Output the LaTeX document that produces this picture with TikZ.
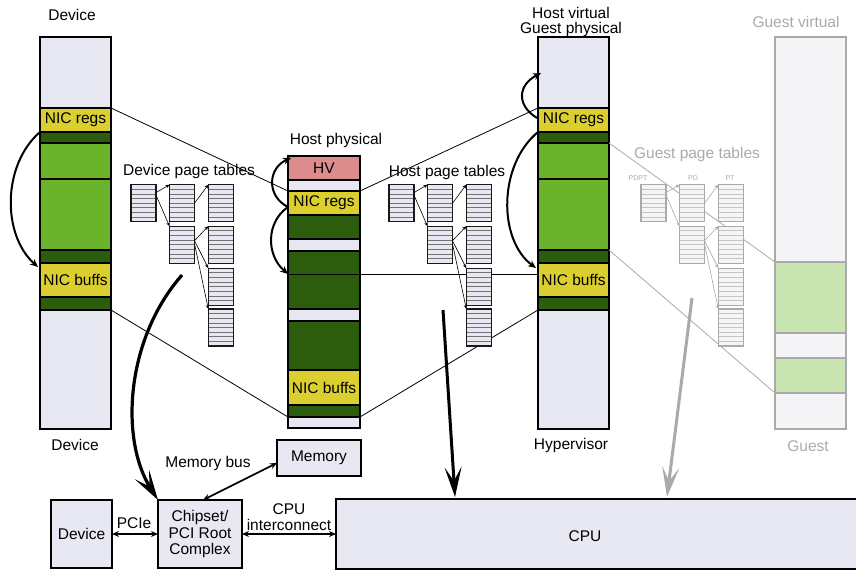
\documentclass[tikz,border=0pt]{standalone}
\usepackage{fontspec}
\setmainfont{Liberation Sans}
\usetikzlibrary{arrows.meta,calc}

\definecolor{lav}{RGB}{232,232,242}
\definecolor{nicy}{RGB}{219,207,48}
\definecolor{ltg}{RGB}{106,179,43}
\definecolor{dkg}{RGB}{44,92,14}
\definecolor{hvpink}{RGB}{220,140,140}
\definecolor{ggray}{RGB}{170,170,170}
\definecolor{gfill}{RGB}{245,245,248}
\definecolor{gpale}{RGB}{200,228,176}

\tikzset{
  seg/.style 2 args={draw=black, line width=1.6pt, minimum width=#1, minimum height=#2,
    anchor=north west, inner sep=0pt, outer sep=0pt},
  gseg/.style 2 args={draw=ggray, line width=1.4pt, minimum width=#1, minimum height=#2,
    anchor=north west, inner sep=0pt, outer sep=0pt},
  tabrows/.style={path picture={
    \foreach \k in {1,...,7}{
      \draw[#1, line width=0.7pt]
        ([yshift=-\k*4.625pt]path picture bounding box.north west) --
        ([yshift=-\k*4.625pt]path picture bounding box.north east);}}},
  ptab/.style={draw=black!90, line width=1.4pt, fill=lav, minimum width=25, minimum height=37,
    inner sep=0pt, outer sep=0pt, tabrows=black!55},
  gtab/.style={draw=ggray, line width=1.4pt, fill=gfill, minimum width=25, minimum height=37,
    inner sep=0pt, outer sep=0pt, tabrows=ggray!70},
  tlink/.style={draw=black, line width=0.6pt, -{Stealth[length=4pt,width=3.5pt]}},
  glink/.style={draw=ggray, line width=0.6pt, -{Stealth[length=4pt,width=3.5pt]}},
  mapline/.style={draw=black, line width=0.8pt},
  gmapline/.style={draw=ggray, line width=0.8pt},
  hop/.style={draw=black, line width=2pt, -{Stealth[length=8pt,width=7pt]}},
  bigarrow/.style={line width=3pt, -{Stealth[length=30pt,width=17pt,inset=14pt]}},
  bus/.style={draw=black, line width=1.6pt, {Stealth[length=7pt,width=6pt]}-{Stealth[length=7pt,width=6pt]}},
  box/.style={draw=black, line width=1.6pt, fill=lav, inner sep=0pt, outer sep=0pt,
    anchor=north west, align=center},
  lbl/.style={inner sep=0pt, align=center},
  glbl/.style={inner sep=0pt, text=ggray},
}

\begin{document}
\begin{tikzpicture}[x=1pt, y=-1pt, font=\fontsize{15.5}{16.5}\selectfont]
\useasboundingbox[fill=white] (0,0) rectangle (856,570);

% ---- memory columns ----
\foreach \n/\t/\h/\c/\l in {1/37/71/lav/{}, NR/108/24/nicy/{NIC regs}, 2/132/11/dkg/{},
    3/143/36/ltg/{}, 4/179/71/ltg/{}, 5/250/13/dkg/{}, NB/263/34/nicy/{NIC buffs},
    6/297/13/dkg/{}, 7/310/119/lav/{}}{
  \node[seg={71}{\h}, fill=\c] (d\n) at (40,\t) {\l};
  \node[seg={71}{\h}, fill=\c] (v\n) at (538,\t) {\l};
}
\foreach \n/\t/\h/\c/\l in {HV/156/24/hvpink/{HV}, 1/180/11/lav/{}, NR/191/24/nicy/{NIC regs},
    2/215/24/dkg/{}, 3/239/12/lav/{}, 4/251/58/dkg/{}, 5/309/12/lav/{}, 6/321/49/dkg/{},
    NB/370/35/nicy/{NIC buffs}, 7/405/12/dkg/{}, 8/417/11/lav/{}}{
  \node[seg={72}{\h}, fill=\c] (h\n) at (288,\t) {\l};
}
\foreach \n/\t/\h/\c in {1/37/225/gfill, 2/262/71/gpale, 3/333/25/gfill, 4/358/35/gpale, 5/393/36/gfill}{
  \node[gseg={71}{\h}, fill=\c] (g\n) at (775,\t) {};
}

% ---- column titles ----
\node[lbl] (tdev) at (72,15) {Device};
\node[lbl] (tdevb) at (75,445) {Device};
\node[lbl] (thp) at (336,140) {Host physical};
\node[lbl] (thv) at (571,13) {Host virtual};
\node[lbl] (tgp) at (571,29) {Guest physical};
\node[lbl] (thyp) at (571,445) {Hypervisor};
\node[glbl] (tgv) at (796,22) {Guest virtual};
\node[glbl] (tg) at (808,446) {Guest};

% ---- address mappings ----
\draw[mapline] (dNR.north east) -- (hNR.north west);
\draw[mapline] (d6.south east) -- (h7.south west);
\draw[mapline] (hNR.north east) -- (vNR.north west);
\draw[mapline] (h7.south east) -- (v6.south west);
\coordinate (hmid) at (288,274);
\draw[mapline] (hmid) -- (hmid -| vNB.west);
\draw[gmapline] (v2.south east) -- (g1.south west);
\draw[gmapline] (v4.south east) -- (g4.south west);

% ---- page tables ----
\node[lbl] (tdpt) at (189,171) {Device page tables};
\node[lbl] (thpt) at (447,172) {Host page tables};
\node[glbl] (tgpt) at (697,154) {Guest page tables};
\node[glbl, font=\fontsize{7}{8}\selectfont] (lpdpt) at (638,178) {PDPT};
\node[glbl, font=\fontsize{7}{8}\selectfont] (lpd) at (693,178) {PD};
\node[glbl, font=\fontsize{7}{8}\selectfont] (lpt) at (730,178) {PT};

\foreach \p/\dx/\st/\lk in {d/0/ptab/tlink, h/258/ptab/tlink, g/510/gtab/glink}{
  \node[\st] (\p A) at (143.3+\dx,203.2) {};
  \node[\st] (\p B) at (182+\dx,203.2) {};
  \node[\st] (\p C) at (220.8+\dx,203.2) {};
  \node[\st] (\p D) at (182+\dx,244.7) {};
  \node[\st] (\p E) at (220.8+\dx,244.7) {};
  \node[\st] (\p F) at (220.8+\dx,286.7) {};
  \node[\st] (\p G) at (220.8+\dx,327.5) {};
  \draw[\lk] ([yshift=-8pt]\p A.north east) -- (\p B.north west);
  \draw[\lk] ([yshift=-10pt]\p A.north east) -- (\p D.north west);
  \draw[\lk] (\p B.east) -- (\p C.north west);
  \draw[\lk] ([yshift=4pt]\p D.east) -- (\p E.north west);
  \draw[\lk] ([yshift=4pt]\p D.east) -- (\p F.north west);
  \draw[\lk] ([yshift=1pt]\p D.east) -- (\p G.north west);
}

% ---- translation hops ----
\draw[hop] (d2.north west) .. controls (2,165) and (2,235) .. ([xshift=-2pt,yshift=-4pt]dNB.north west);
\coordinate (hfrom) at (288,207);
\draw[hop] (hfrom) .. controls (266,196) and (268,168) .. ([xshift=3pt,yshift=-2pt]hHV.north west);
\draw[hop] (hfrom) .. controls (266,222) and (266,255) .. (hmid);
\draw[hop] ([xshift=-1pt,yshift=-10pt]vNR.north west) .. controls (516,105) and (518,85) .. ([xshift=3pt,yshift=-36pt]v1.north west);
\draw[hop] (v2.north west) .. controls (498,165) and (498,240) .. ([xshift=-2pt,yshift=-5pt]vNB.north west);

% ---- hardware ----
\node[box, minimum width=61, minimum height=68] (dev) at (51,500) {Device};
\node[box, minimum width=84, minimum height=68] (chip) at (158,500) {Chipset/\\PCI Root\\Complex};
\node[box, minimum width=540, minimum height=70] (cpu) at (336,499) {};
\node[lbl] (tcpu) at (585,536) {CPU};
\node[box, minimum width=84, minimum height=36] (mem) at (277,440) {Memory};

\draw[bus] (dev.east) -- (chip.west);
\node[lbl] (tpcie) at (134,523) {PCIe};
\draw[bus] (chip.east) -- (chip.east -| cpu.west);
\node[lbl] (tcic) at (289,517) {CPU\\interconnect};
\draw[bus] ([xshift=3pt]chip.north) -- ([yshift=-5pt]mem.west);
\node[lbl] (tmbus) at (208,463) {Memory bus};

% ---- memory access paths ----
\coordinate (devacc) at (182,275);
\coordinate (hostacc) at (443,310);
\coordinate (hostend) at (455,497);
\coordinate (guestacc) at (692,298);
\coordinate (guestend) at (667,497);
\draw[bigarrow, line width=3.2pt] (devacc) .. controls (125,340) and (120,440) .. (chip.north west);
\draw[bigarrow, draw=black, fill=black] (hostacc) -- (hostend);
\draw[bigarrow, draw=ggray, fill=ggray] (guestacc) -- (guestend);
\end{tikzpicture}
\end{document}
